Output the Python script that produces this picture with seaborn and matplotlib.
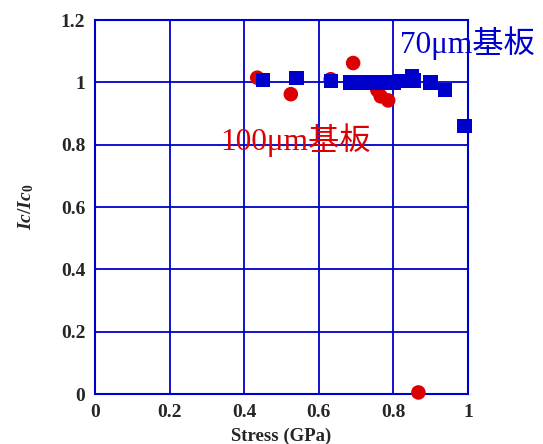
import matplotlib
matplotlib.use("Agg")
import matplotlib.pyplot as plt
import seaborn as sns
import pandas as pd

# Data
stress_70 = [0.45, 0.54, 0.633, 0.685, 0.705, 0.725, 0.76, 0.78, 0.80, 0.82, 0.85, 0.855, 0.90, 0.938, 0.99]
ratio_70 = [1.008, 1.014, 1.004, 1.0, 0.999, 1.0, 1.0, 1.0, 1.0, 1.004, 1.018, 1.005, 1.0, 0.976, 0.86]

stress_100 = [0.435, 0.525, 0.632, 0.692, 0.757, 0.766, 0.786, 0.867]
ratio_100 = [1.015, 0.962, 1.01, 1.062, 0.975, 0.955, 0.942, 0.005]

x_ticks = [0, 0.2, 0.4, 0.6, 0.8, 1.0]
x_tick_labels = ["0", "0.2", "0.4", "0.6", "0.8", "1"]
y_ticks = [0, 0.2, 0.4, 0.6, 0.8, 1.0, 1.2]
y_tick_labels = ["0", "0.2", "0.4", "0.6", "0.8", "1", "1.2"]

label_70 = "70μm基板"
label_100 = "100μm基板"

sns.set_style("white")
plt.rcParams["font.family"] = ["Liberation Serif", "Noto Sans CJK JP", "DejaVu Sans"]
plt.rcParams["mathtext.fontset"] = "custom"
plt.rcParams["mathtext.it"] = "Liberation Serif:italic:bold"
plt.rcParams["mathtext.rm"] = "Liberation Serif:bold"

blue = "#0000CC"
red = "#DD0000"

df70 = pd.DataFrame({"x": stress_70, "y": ratio_70})
df100 = pd.DataFrame({"x": stress_100, "y": ratio_100})

fig = plt.figure(figsize=(5.43, 4.44), dpi=100)
ax = fig.add_axes([95 / 543, 1 - 394 / 444, (468 - 95) / 543, (394 - 20) / 444])

sns.scatterplot(data=df100, x="x", y="y", ax=ax, marker="o", s=110, color=red,
                edgecolor="none", linewidth=0, zorder=3, clip_on=False)
sns.scatterplot(data=df70, x="x", y="y", ax=ax, marker="s", s=110, color=blue,
                edgecolor="none", linewidth=0, zorder=4, clip_on=False)

ax.set_xlim(0, 1)
ax.set_ylim(0, 1.2)
ax.set_xticks(x_ticks)
ax.set_xticklabels(x_tick_labels)
ax.set_yticks(y_ticks)
ax.set_yticklabels(y_tick_labels)
for lab in ax.get_xticklabels() + ax.get_yticklabels():
    lab.set_fontweight("bold")
    lab.set_fontsize(14)
ax.tick_params(axis="both", length=0, pad=7)

ax.grid(True, color=blue, linewidth=1.3)
ax.set_axisbelow(True)
for sp in ax.spines.values():
    sp.set_color(blue)
    sp.set_linewidth(1.5)

ax.set_xlabel("Stress (GPa)", fontsize=13.5, fontweight="bold", labelpad=5)
ax.set_ylabel(r"$Ic/Ic_0$", fontsize=14, labelpad=18)

ax.text(0.818, 1.126, label_70, color=blue, fontsize=22.5, va="center", ha="left", clip_on=False)
ax.text(0.335, 0.815, label_100, color=red, fontsize=22.5, va="center", ha="left", clip_on=False)

fig.savefig("out.png", dpi=100)
